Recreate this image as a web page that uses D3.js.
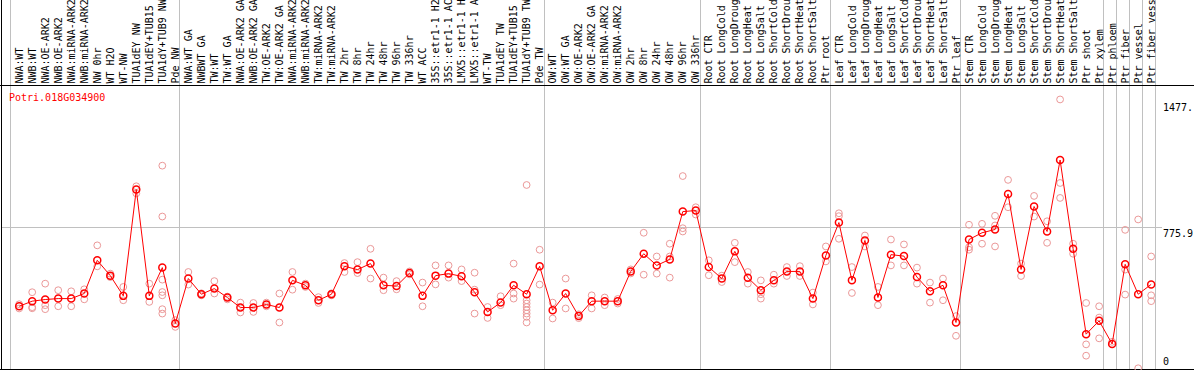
<!DOCTYPE html>
<html>
<head>
<meta charset="utf-8">
<script src="https://cdn.jsdelivr.net/npm/d3@7"></script>
<style>
  body { margin: 0; background: #fff; }
  svg text { font-family: "DejaVu Sans Mono", monospace; font-size: 10px; }
</style>
</head>
<body>
<div id="chart"></div>
<script>
var geneName = "Potri.018G034900";

var samples = [
  "NWA:WT", "NWB:WT", "NWA:OE-ARK2", "NWB:OE-ARK2", "NWA:miRNA-ARK2", "NWB:miRNA-ARK2",
  "NW 0hr", "WT H2O", "WT-NW", "TUA1dEY NW", "TUA1dEY+TUB15 NW", "TUA1dY+TUB9 NW", "Pde NW",
  "NWA:WT GA", "NWBWT GA", "TW:WT", "TW:WT GA", "NWA:OE-ARK2 GA", "NWB:OE-ARK2 GA",
  "TW:OE-ARK2", "TW:OE-ARK2 GA", "NWA:miRNA-ARK2 GA", "NWB:miRNA-ARK2 GA", "TW:miRNA-ARK2",
  "TW:miRNA-ARK2 GA", "TW 2hr", "TW 8hr", "TW 24hr", "TW 48hr", "TW 96hr", "TW 336hr", "WT ACC",
  "35S::etr1-1 H2O", "35S::etr1-1 ACC", "LMX5::etr1-1 H2O", "LMX5::etr1-1 ACC", "WT-TW",
  "TUA1dEY TW", "TUA1dEY+TUB15 TW", "TUA1dY+TUB9 TW", "Pde TW",
  "OW:WT", "OW:WT GA", "OW:OE-ARK2", "OW:OE-ARK2 GA", "OW:miRNA-ARK2", "OW:miRNA-ARK2 GA",
  "OW 2hr", "OW 8hr", "OW 24hr", "OW 48hr", "OW 96hr", "OW 336hr",
  "Root CTR", "Root LongCold", "Root LongDrought", "Root LongHeat", "Root LongSalt",
  "Root ShortCold", "Root ShortDrought", "Root ShortHeat", "Root ShortSalt", "Ptr root",
  "Leaf CTR", "Leaf LongCold", "Leaf LongDrought", "Leaf LongHeat", "Leaf LongSalt",
  "Leaf ShortCold", "Leaf ShortDrought", "Leaf ShortHeat", "Leaf ShortSalt", "Ptr leaf",
  "Stem CTR", "Stem LongCold", "Stem LongDrought", "Stem LongHeat", "Stem LongSalt",
  "Stem ShortCold", "Stem ShortDrought", "Stem ShortHeat", "Stem ShortSalt", "Ptr shoot",
  "Ptr xylem", "Ptr phloem", "Ptr fiber", "Ptr vessel", "Ptr fiber vessel"
];

// number of samples in each block between grey separators
var groupSizes = [13, 28, 12, 10, 10, 11, 1, 1, 1, 1];

var means = [
  344, 372, 381, 386, 386, 414, 596, 512, 401, 984, 401, 556, 250,
  496, 410, 441, 392, 337, 337, 354, 337, 486, 459, 377, 410, 563, 545, 578, 459, 455,
  526, 401, 512, 523, 508, 421, 313, 364, 459, 410, 563,
  322, 414, 290, 372, 372, 372, 535, 632, 568, 601, 863, 869,
  559, 496, 645, 501, 432, 486, 535, 535, 386, 623,
  803, 486, 705, 392, 627, 619, 504, 426, 459, 255,
  710, 747, 765, 960, 546, 891, 754, 1146, 659, 191, 264,
  137, 574, 410, 464
];

var replicates = [
  [355, 332], [421, 339, 333], [468, 350, 328], [432, 344], [426, 344], [437, 382],
  [678, 563], [523, 504], [450, 377], [1002, 963], [468, 368],
  [1115, 836, 490, 422, 404, 328, 304], [268, 231],
  [532, 463], [415, 404], [482, 414], [397, 382], [364, 310], [362, 313], [364, 344],
  [414, 255], [532, 435], [468, 450], [394, 362], [415, 404], [581, 532], [586, 526],
  [659, 496], [501, 432], [482, 437], [535, 519], [474, 344], [568, 464], [568, 501],
  [546, 482], [528, 435, 304], [340, 280], [399, 350], [578, 414, 386],
  [1009, 377, 359, 340, 322, 304, 286, 255], [654, 463],
  [364, 277], [496, 332], [300, 279], [404, 332], [392, 350], [384, 359], [546, 524],
  [747, 517], [617, 523], [687, 617, 501], [1058, 772, 754], [887, 847],
  [596, 514], [512, 477], [692, 586], [532, 468], [486, 410, 386], [517, 468],
  [559, 510], [564, 510], [419, 354], [672, 590],
  [854, 838, 714], [559, 417], [732, 672], [450, 350], [710, 568], [683, 568],
  [556, 468], [474, 364], [496, 377], [290, 182],
  [791, 668, 654], [796, 687], [840, 787, 672], [1037, 887], [578, 510], [949, 836],
  [810, 692], [1478, 1020, 938], [687, 632], [362, 135, 73], [344, 282, 168],
  [149], [763, 545, 408], [820, 4], [617, 404, 372]
];

var tickValues = [1477.9, 775.9, 0];
var tickLabels = ["1477.", "775.9", "0"];
var yMax = 1551.8;

var width = 1194, height = 370;
var headerH = 85, plotLeft = 10.6, plotRight = 1155.6, plotBottom = 369;

var svg = d3.select("#chart").append("svg")
  .attr("width", width)
  .attr("height", height);

var x = d3.scaleBand()
  .domain(d3.range(samples.length))
  .range([plotLeft, plotRight])
  .paddingInner(0);

function cx(i) { return x(i) + x.bandwidth() * 0.66; }

var y = d3.scaleLinear()
  .domain([0, yMax])
  .range([plotBottom, headerH + 1]);

function crisp(v) { return Math.floor(v) + 0.5; }

// grey separators between sample blocks
var bounds = [0];
groupSizes.forEach(function (s) { bounds.push(bounds[bounds.length - 1] + s); });

svg.append("g").selectAll("line")
  .data(bounds)
  .enter().append("line")
    .attr("x1", function (d) { return crisp(d < samples.length ? x(d) : plotRight); })
    .attr("x2", function (d) { return crisp(d < samples.length ? x(d) : plotRight); })
    .attr("y1", 0)
    .attr("y2", plotBottom)
    .attr("stroke", "#c0c0c0")
    .attr("stroke-width", 1);

// mid line
svg.append("line")
  .attr("x1", 1).attr("x2", 1162)
  .attr("y1", crisp(y(tickValues[1]))).attr("y2", crisp(y(tickValues[1])))
  .attr("stroke", "#c0c0c0");

// frame
svg.append("line").attr("x1", 1.5).attr("x2", 1.5).attr("y1", 0).attr("y2", height).attr("stroke", "#000");
svg.append("line").attr("x1", 0).attr("x2", width).attr("y1", headerH + 0.5).attr("y2", headerH + 0.5).attr("stroke", "#000");
svg.append("line").attr("x1", 0).attr("x2", width).attr("y1", plotBottom + 0.5).attr("y2", plotBottom + 0.5).attr("stroke", "#000");

// sample labels
svg.append("g").selectAll("text")
  .data(samples)
  .enter().append("text")
    .attr("transform", function (d, i) {
      return "translate(" + (cx(i) + 3.6) + "," + (headerH - 1.5) + ") rotate(-90)";
    })
    .attr("fill", "#000")
    .text(function (d) { return d; });

// replicate points
var reps = [];
replicates.forEach(function (list, i) {
  list.forEach(function (v) { reps.push({ i: i, v: v }); });
});

svg.append("g").selectAll("circle")
  .data(reps)
  .enter().append("circle")
    .attr("cx", function (d) { return cx(d.i); })
    .attr("cy", function (d) { return y(d.v); })
    .attr("r", 3.4)
    .attr("fill", "none")
    .attr("stroke", "#eb9898")
    .attr("stroke-width", 1);

// mean line
var line = d3.line()
  .x(function (d, i) { return cx(i); })
  .y(function (d) { return y(d); });

svg.append("path")
  .datum(means)
  .attr("d", line)
  .attr("fill", "none")
  .attr("stroke", "#ff0000")
  .attr("stroke-width", 1);

svg.append("g").selectAll("circle")
  .data(means)
  .enter().append("circle")
    .attr("cx", function (d, i) { return cx(i); })
    .attr("cy", function (d) { return y(d); })
    .attr("r", 3.5)
    .attr("fill", "none")
    .attr("stroke", "#ff0000")
    .attr("stroke-width", 1.5);

// title
svg.append("text")
  .attr("x", 9)
  .attr("y", 100.5)
  .attr("fill", "#ff0000")
  .text(geneName);

// value labels on the right
svg.append("g").selectAll("text")
  .data(tickValues)
  .enter().append("text")
    .attr("x", 1163)
    .attr("y", function (d, i) { return i == 2 ? y(d) - 4 : y(d) + (i == 0 ? 12 : 9.5); })
    .attr("fill", "#000")
    .text(function (d, i) { return tickLabels[i]; });
</script>
</body>
</html>
